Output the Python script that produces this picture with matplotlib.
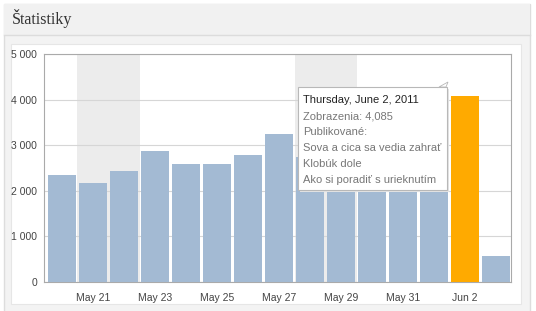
import matplotlib
matplotlib.use("Agg")
import matplotlib.pyplot as plt
from matplotlib.patches import Rectangle, Polygon

days = ["May 20", "May 21", "May 22", "May 23", "May 24", "May 25", "May 26", "May 27",
        "May 28", "May 29", "May 30", "May 31", "Jun 1", "Jun 2", "Jun 3"]
views = [2340, 2180, 2440, 2880, 2580, 2580, 2790, 3240, 2750, 2600, 2450, 2700, 2500, 4085, 575]
weekend_starts = [1, 8]          # index of Saturday (May 21, May 28)
highlight = 13                    # Jun 2
tick_idx = [1, 3, 5, 7, 9, 11, 13]
tick_labels = ["May 21", "May 23", "May 25", "May 27", "May 29", "May 31", "Jun 2"]
yticks = [0, 1000, 2000, 3000, 4000, 5000]
ytick_labels = ["0", "1 000", "2 000", "3 000", "4 000", "5 000"]
title = "Štatistiky"
tooltip_title = "Thursday, June 2, 2011"
tooltip_lines = ["Zobrazenia: 4,085", "Publikované:", "Sova a cica sa vedia zahrať",
                 "Klobúk dole", "Ako si poradiť s urieknutím"]

plt.rcParams["font.family"] = ["Liberation Sans", "DejaVu Sans"]

W, H = 536, 311
fig = plt.figure(figsize=(W / 100, H / 100), dpi=100, facecolor="white")

def fx(px):
    return px / W

def fy(py):
    return 1 - py / H

# panel background
fig.patches.append(Rectangle((fx(4), fy(318)), fx(526), 314 / H, transform=fig.transFigure,
                             facecolor="#f3f3f3", edgecolor="#dddddd", lw=1, zorder=0))
fig.patches.append(Rectangle((fx(4), fy(35)), fx(526), 31 / H, transform=fig.transFigure,
                             facecolor="#f1f1f1", edgecolor="none", zorder=0))
fig.lines.append(plt.Line2D([fx(4), fx(530)], [fy(35), fy(35)], transform=fig.transFigure,
                            color="#dcdcdc", lw=1, zorder=1))
fig.patches.append(Rectangle((fx(11), fy(304)), fx(510), 260 / H, transform=fig.transFigure,
                             facecolor="white", edgecolor="#e6e6e6", lw=0.8, zorder=1))
fig.text(fx(12), fy(19), title, family=["Liberation Serif", "DejaVu Serif"], fontsize=11.5,
         color="#333333", va="center", ha="left")

ax = fig.add_axes([fx(44), fy(282), fx(511 - 44), (282 - 54) / H])
ax.set_zorder(3)
ax.set_facecolor("white")
x = list(range(len(views)))
colors = ["#ffaa00" if i == highlight else "#a3bad3" for i in x]
for s in weekend_starts:
    ax.axvspan(s - 0.5, s + 1.5, color="#ececec", lw=0, zorder=0)
ax.bar(x, views, width=0.9, color=colors, zorder=3)
ax.set_xlim(-0.58, 14.48)
ax.set_ylim(0, 5000)
ax.set_yticks(yticks)
ax.set_yticklabels(ytick_labels)
ax.set_xticks(tick_idx)
ax.set_xticklabels(tick_labels)
ax.yaxis.grid(True, color="#d6d6d6", lw=0.8, zorder=1)
ax.set_axisbelow(True)
ax.tick_params(axis="both", length=0, labelsize=7.5, colors="#444444")
ax.tick_params(axis="y", pad=5)
ax.tick_params(axis="x", pad=8)
for sp in ax.spines.values():
    sp.set_color("#aaaaaa")
    sp.set_linewidth(0.8)

# tooltip
bx0, by0, bx1, by1 = 298, 87, 447, 190
fig.patches.append(Rectangle((fx(bx0 + 2), fy(by1 + 2)), fx(bx1 - bx0), (by1 - by0) / H,
                             transform=fig.transFigure, facecolor="#e4e4e4", edgecolor="none", zorder=5))
fig.patches.append(Rectangle((fx(bx0), fy(by1)), fx(bx1 - bx0), (by1 - by0) / H,
                             transform=fig.transFigure, facecolor="white", edgecolor="#b8b8b8",
                             lw=0.8, zorder=6))
fig.patches.append(Polygon([(fx(bx1 - 8), fy(by0)), (fx(bx1 - 1), fy(by0)), (fx(bx1 + 1), fy(by0 - 5))],
                           closed=True, transform=fig.transFigure, facecolor="white",
                           edgecolor="#b8b8b8", lw=0.6, zorder=6))
fig.text(fx(bx0 + 5), fy(100), tooltip_title, fontsize=8, color="#222222", va="center",
         ha="left", zorder=7)
for k, line in enumerate(tooltip_lines):
    fig.text(fx(bx0 + 5), fy(116 + 16 * k), line, fontsize=8, color="#777777", va="center",
             ha="left", zorder=7)

fig.savefig("out.png", dpi=100, facecolor=fig.get_facecolor())
